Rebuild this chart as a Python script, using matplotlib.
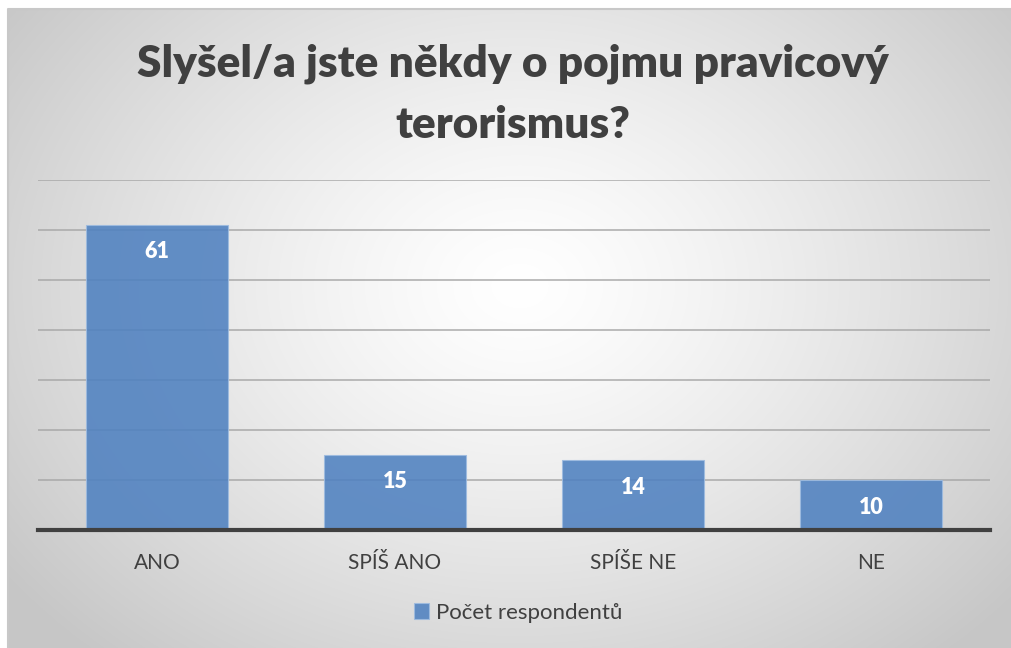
import numpy as np
import matplotlib
matplotlib.use("Agg")
import matplotlib.pyplot as plt
from matplotlib.patches import Rectangle

categories = ["ANO", "SPÍŠ ANO", "SPÍŠE NE", "NE"]
values = [61, 15, 14, 10]
series_name = "Počet respondentů"
title = "Slyšel/a jste někdy o pojmu pravicový\nterorismus?"

W, H = 1012, 648
fig = plt.figure(figsize=(W / 100, H / 100), dpi=100)
fig.patch.set_facecolor("#cdcdcd")

# background gradient frame in pixel coordinates
bg = fig.add_axes([0, 0, 1, 1])
bg.set_axis_off()
fl, ft = 8, 9
nx, ny = 400, 260
xx, yy = np.meshgrid(np.linspace(0, 1, nx), np.linspace(0, 1, ny))
cx, cy = 0.5, 0.42
r = np.sqrt(((xx - cx) / 0.62) ** 2 + ((yy - cy) / 0.75) ** 2)
r = np.clip(r, 0, 1)
level = 1.0 - 0.22 * r ** 1.3
img = np.dstack([level, level, level])
bg.imshow(img, extent=[fl, W + 20, H + 20, ft], aspect="auto", interpolation="bilinear")
bg.add_patch(Rectangle((-5, -5), fl + 5, H + 20, facecolor="white", edgecolor="none"))
bg.add_patch(Rectangle((-5, -5), W + 20, ft + 5, facecolor="white", edgecolor="none"))
bg.plot([fl, fl, W + 20], [H + 20, ft, ft], color="#c8c8c8", linewidth=1.5)
bg.set_xlim(0, W)
bg.set_ylim(H, 0)

font = "Lato"
ax = fig.add_axes([38 / W, (H - 530) / H, 952 / W, 350 / H])
ax.patch.set_alpha(0)
x = np.arange(len(categories))
ax.set_ylim(0, 70)
ax.set_xlim(-0.5, len(categories) - 0.5)
ax.set_yticks(np.arange(10, 71, 10))
ax.yaxis.grid(True, color="#a6a6a6", linewidth=1.3, alpha=0.8)
ax.set_axisbelow(True)
bars = ax.bar(x, values, width=0.6, color="#4f81c0", alpha=0.88,
              edgecolor="#9dbbe0", linewidth=0.8, label=series_name, zorder=2)
for xi, v in zip(x, values):
    ax.text(xi, v - 5.4, str(v), ha="center", va="center", color="white",
            fontsize=15.5, fontweight="heavy", family=font, zorder=3)
for s in ["top", "right", "left"]:
    ax.spines[s].set_visible(False)
ax.spines["bottom"].set_color("#404040")
ax.spines["bottom"].set_linewidth(3)
ax.spines["bottom"].set_zorder(4)
ax.tick_params(axis="y", left=False, labelleft=False)
ax.tick_params(axis="x", bottom=False, pad=13)
ax.set_xticks(x)
ax.set_xticklabels(categories, fontsize=15, color="#404040", family=font)

fig.text(0.507, 1 - 94 / H, title, ha="center", va="center", fontsize=31.8,
         fontweight="heavy", color="#404040", family=font, linespacing=1.65)

leg = fig.legend(handles=[bars], labels=[series_name], loc="center",
                 bbox_to_anchor=(518 / W, 1 - 613 / H), frameon=False,
                 prop={"family": font, "size": 16}, handlelength=0.7,
                 handleheight=0.7, handletextpad=0.3)
for t in leg.get_texts():
    t.set_color("#404040")

fig.savefig("out.png", dpi=100)
